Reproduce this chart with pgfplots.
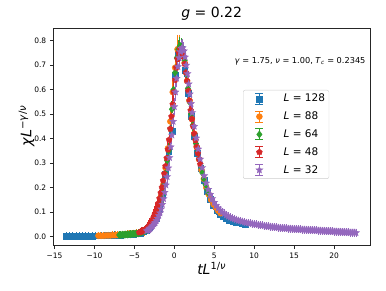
\documentclass[border=0pt]{standalone}
\usepackage{pgfplots}
\pgfplotsset{compat=1.18}
\usepackage{pgfplotstable}
\usepackage{fontspec}
\setmainfont{DejaVu Sans}
\usetikzlibrary{plotmarks}
\definecolor{c1}{HTML}{1F77B4}
\definecolor{c2}{HTML}{FF7F0E}
\definecolor{c3}{HTML}{2CA02C}
\definecolor{c4}{HTML}{D62728}
\definecolor{c5}{HTML}{9467BD}
\pgfdeclareplotmark{fstar}{%
  \pgfpathmoveto{\pgfpointpolar{90}{1.15\pgfplotmarksize}}%
  \pgfpathlineto{\pgfpointpolar{126}{0.5\pgfplotmarksize}}%
  \pgfpathlineto{\pgfpointpolar{162}{1.15\pgfplotmarksize}}%
  \pgfpathlineto{\pgfpointpolar{198}{0.5\pgfplotmarksize}}%
  \pgfpathlineto{\pgfpointpolar{234}{1.15\pgfplotmarksize}}%
  \pgfpathlineto{\pgfpointpolar{270}{0.5\pgfplotmarksize}}%
  \pgfpathlineto{\pgfpointpolar{306}{1.15\pgfplotmarksize}}%
  \pgfpathlineto{\pgfpointpolar{342}{0.5\pgfplotmarksize}}%
  \pgfpathlineto{\pgfpointpolar{18}{1.15\pgfplotmarksize}}%
  \pgfpathlineto{\pgfpointpolar{54}{0.5\pgfplotmarksize}}%
  \pgfpathclose
  \pgfusepathqfillstroke
}
\pgfplotsset{
  ebleg/.style={legend image code/.code={%
    \path (0pt,0pt) (36pt,0pt);
    \draw[#1,line width=0.9pt] (14pt,-5.5pt)--(14pt,5.5pt);
    \draw[#1,line width=0.9pt] (10pt,5.5pt)--(18pt,5.5pt);
    \draw[#1,line width=0.9pt] (10pt,-5.5pt)--(18pt,-5.5pt);
    \draw[mark repeat=2,mark phase=2,##1] plot coordinates {(0pt,0pt)(14pt,0pt)(28pt,0pt)};
  }},
  ebar/.style={error bars/.cd, y dir=both, y explicit,
    error bar style={line width=0.9pt},
    error mark options={mark size=3.5pt, line width=0.9pt}},
}

\pgfplotstableread{
x y e
-13.5 0.001 0.001
-13.1 0.001 0.001
-12.7 0.001 0.001
-12.3 0.001 0.001
-11.9 0.001 0.001
-11.5 0.002 0.001
-11.1 0.002 0.001
-10.7 0.002 0.001
-10.3 0.002 0.001
-9.9 0.003 0.001
-9.5 0.003 0.001
-9.1 0.003 0.001
-8.7 0.003 0.001
-8.3 0.004 0.001
-7.9 0.004 0.001
-7.5 0.005 0.001
-7.1 0.005 0.001
-6.7 0.006 0.001
-6.3 0.007 0.001
-5.9 0.008 0.002
-5.5 0.009 0.002
-5.1 0.010 0.002
-4.7 0.012 0.002
-4.3 0.014 0.002
-3.9 0.019 0.003
-3.5 0.026 0.003
-3.1 0.037 0.004
-2.7 0.053 0.005
-2.3 0.076 0.006
-1.9 0.110 0.008
-1.5 0.168 0.010
-1.1 0.255 0.012
-0.7 0.350 0.014
-0.3 0.430 0.016
0.1 0.660 0.018
0.5 0.750 0.018
0.9 0.765 0.016
1.3 0.680 0.015
1.7 0.585 0.012
2.1 0.490 0.010
2.5 0.410 0.009
2.9 0.340 0.008
3.3 0.280 0.007
3.7 0.230 0.006
4.1 0.185 0.005
4.5 0.152 0.004
4.9 0.127 0.004
5.3 0.107 0.003
5.7 0.092 0.003
6.1 0.082 0.003
6.5 0.074 0.002
6.9 0.068 0.002
7.3 0.063 0.002
7.7 0.059 0.002
8.1 0.056 0.002
8.5 0.053 0.002
8.9 0.050 0.002
}\tblue

\pgfplotstableread{
x y e
-9.5 0.003 0.001
-9.2 0.003 0.001
-8.9 0.003 0.001
-8.6 0.004 0.001
-8.3 0.004 0.001
-8.0 0.004 0.001
-7.7 0.005 0.001
-7.4 0.005 0.001
-7.1 0.006 0.001
-6.8 0.006 0.001
-6.5 0.007 0.001
-6.2 0.008 0.002
-5.9 0.009 0.002
-5.6 0.010 0.002
-5.3 0.011 0.002
-5.0 0.012 0.002
-4.7 0.013 0.002
-4.4 0.015 0.003
-4.1 0.018 0.003
-3.8 0.022 0.004
-3.5 0.029 0.005
-3.2 0.039 0.007
-2.9 0.050 0.010
-2.6 0.068 0.015
-2.3 0.090 0.025
-2.0 0.120 0.030
-1.7 0.160 0.030
-1.4 0.210 0.025
-1.1 0.280 0.025
-0.8 0.360 0.025
-0.5 0.470 0.030
-0.2 0.590 0.035
0.1 0.690 0.035
0.4 0.765 0.045
0.7 0.775 0.035
1.0 0.760 0.030
1.3 0.710 0.025
1.6 0.635 0.022
1.9 0.555 0.020
2.2 0.480 0.018
2.5 0.420 0.015
2.8 0.365 0.013
3.1 0.315 0.011
3.4 0.272 0.010
3.7 0.235 0.008
4.0 0.200 0.007
4.3 0.172 0.006
4.6 0.150 0.005
4.9 0.132 0.005
5.2 0.118 0.004
5.5 0.105 0.004
5.8 0.095 0.003
}\torange

\pgfplotstableread{
x y e
-6.9 0.006 0.001
-6.7 0.006 0.001
-6.5 0.007 0.001
-6.3 0.007 0.001
-6.1 0.008 0.001
-5.9 0.008 0.001
-5.7 0.009 0.001
-5.5 0.009 0.002
-5.3 0.010 0.002
-5.1 0.011 0.002
-4.9 0.011 0.002
-4.7 0.012 0.002
-4.5 0.013 0.002
-4.3 0.015 0.002
-4.1 0.017 0.003
-3.9 0.020 0.003
-3.7 0.023 0.003
-3.5 0.027 0.004
-3.3 0.032 0.004
-3.1 0.038 0.005
-2.9 0.046 0.006
-2.7 0.055 0.007
-2.5 0.066 0.008
-2.3 0.080 0.009
-2.1 0.094 0.010
-1.9 0.114 0.011
-1.7 0.140 0.012
-1.5 0.172 0.013
-1.3 0.212 0.014
-1.1 0.258 0.015
-0.9 0.310 0.016
-0.7 0.350 0.018
-0.5 0.440 0.020
-0.3 0.520 0.020
-0.1 0.600 0.022
0.1 0.670 0.022
0.3 0.730 0.022
0.5 0.765 0.022
0.7 0.780 0.020
0.9 0.775 0.020
1.1 0.755 0.018
1.3 0.720 0.018
1.5 0.665 0.016
1.7 0.605 0.015
1.9 0.550 0.014
2.1 0.500 0.013
2.3 0.455 0.012
2.5 0.415 0.011
2.7 0.380 0.010
2.9 0.345 0.009
3.1 0.315 0.008
3.3 0.288 0.008
3.5 0.260 0.007
3.7 0.236 0.006
3.9 0.212 0.006
4.1 0.192 0.005
4.3 0.176 0.005
}\tgreen

\pgfplotstableread{
x y e
-4.40 0.016 0.002
-4.25 0.018 0.002
-4.10 0.020 0.003
-3.95 0.022 0.003
-3.80 0.025 0.004
-3.65 0.028 0.005
-3.50 0.031 0.006
-3.35 0.036 0.008
-3.20 0.042 0.010
-3.05 0.049 0.012
-2.90 0.057 0.015
-2.75 0.066 0.018
-2.60 0.076 0.020
-2.45 0.088 0.022
-2.30 0.100 0.022
-2.15 0.117 0.022
-2.00 0.135 0.020
-1.85 0.155 0.020
-1.70 0.178 0.020
-1.55 0.200 0.020
-1.40 0.228 0.020
-1.25 0.256 0.020
-1.10 0.287 0.020
-0.95 0.320 0.020
-0.80 0.355 0.020
-0.65 0.395 0.020
-0.50 0.440 0.020
-0.35 0.490 0.022
-0.20 0.540 0.022
-0.05 0.590 0.022
0.10 0.640 0.022
0.25 0.690 0.022
0.40 0.725 0.022
0.55 0.750 0.022
0.70 0.765 0.020
0.85 0.760 0.020
1.00 0.750 0.020
1.15 0.735 0.020
1.30 0.705 0.018
1.45 0.670 0.018
1.60 0.635 0.016
1.75 0.595 0.016
1.90 0.555 0.015
2.05 0.515 0.014
2.20 0.480 0.013
2.35 0.450 0.012
2.50 0.420 0.011
2.65 0.393 0.010
2.80 0.366 0.010
2.95 0.340 0.009
3.10 0.316 0.008
3.25 0.295 0.008
}\tred

\pgfplotstableread{
x y e
-3.45 0.023 0.003
-3.30 0.026 0.003
-3.15 0.030 0.004
-3.00 0.034 0.004
-2.85 0.039 0.005
-2.70 0.044 0.005
-2.55 0.051 0.006
-2.40 0.057 0.006
-2.25 0.065 0.007
-2.10 0.074 0.008
-1.95 0.085 0.009
-1.80 0.096 0.010
-1.65 0.112 0.011
-1.50 0.131 0.012
-1.35 0.154 0.013
-1.20 0.180 0.014
-1.05 0.210 0.015
-0.90 0.244 0.016
-0.75 0.280 0.017
-0.60 0.322 0.018
-0.45 0.366 0.019
-0.30 0.414 0.020
-0.15 0.470 0.020
0.00 0.530 0.021
0.15 0.590 0.021
0.30 0.646 0.022
0.45 0.694 0.022
0.60 0.730 0.022
0.75 0.755 0.022
0.90 0.768 0.022
1.05 0.771 0.022
1.20 0.758 0.021
1.35 0.733 0.020
1.50 0.700 0.019
1.65 0.665 0.018
1.80 0.623 0.017
1.95 0.582 0.016
2.10 0.543 0.015
2.25 0.506 0.014
2.50 0.450 0.013
2.75 0.402 0.012
3.00 0.357 0.011
3.25 0.316 0.010
3.50 0.281 0.009
3.75 0.248 0.008
4.00 0.218 0.007
4.25 0.192 0.006
4.50 0.172 0.006
4.75 0.154 0.005
5.00 0.139 0.005
5.25 0.126 0.004
5.50 0.116 0.004
5.75 0.107 0.004
6.00 0.099 0.003
6.25 0.093 0.003
6.50 0.087 0.003
6.75 0.082 0.003
7.00 0.078 0.003
7.25 0.074 0.002
7.50 0.071 0.002
7.75 0.068 0.002
8.00 0.065 0.002
8.25 0.063 0.002
8.50 0.061 0.002
8.75 0.058 0.002
9.00 0.056 0.002
9.25 0.055 0.002
9.50 0.053 0.002
9.75 0.052 0.002
10.00 0.050 0.002
10.25 0.049 0.002
10.50 0.047 0.002
10.75 0.046 0.002
11.00 0.045 0.002
11.25 0.043 0.002
11.50 0.042 0.002
11.75 0.041 0.002
12.00 0.040 0.002
12.25 0.039 0.002
12.50 0.038 0.002
12.75 0.037 0.002
13.00 0.036 0.002
13.25 0.035 0.002
13.50 0.034 0.002
13.75 0.034 0.002
14.00 0.033 0.002
14.25 0.032 0.002
14.50 0.032 0.002
14.75 0.031 0.002
15.00 0.030 0.002
15.25 0.030 0.002
15.50 0.029 0.002
15.75 0.029 0.002
16.00 0.028 0.002
16.25 0.028 0.002
16.50 0.027 0.002
16.75 0.027 0.002
17.00 0.026 0.002
17.25 0.026 0.002
17.50 0.025 0.002
17.75 0.025 0.002
18.00 0.024 0.002
18.25 0.024 0.002
18.50 0.023 0.002
18.75 0.023 0.002
19.00 0.022 0.002
19.25 0.022 0.002
19.50 0.021 0.002
19.75 0.021 0.002
20.00 0.020 0.002
20.25 0.020 0.002
20.50 0.019 0.002
20.75 0.019 0.002
21.00 0.018 0.002
21.25 0.018 0.002
21.50 0.017 0.002
21.75 0.017 0.002
22.00 0.016 0.002
22.25 0.016 0.002
22.50 0.016 0.002
22.75 0.015 0.002
}\tpurple

\begin{document}
\begin{tikzpicture}
\path[use as bounding box] (0,0) rectangle (386pt,290pt);
\begin{axis}[
  at={(53.3pt,44.5pt)}, anchor=south west,
  scale only axis, width=316.7pt, height=217.5pt,
  xmin=-15.15, xmax=24.5, ymin=-0.037, ymax=0.852,
  xtick={-15,-10,-5,0,5,10,15,20},
  xticklabels={−15,−10,−5,0,5,10,15,20},
  ytick={0,0.1,0.2,0.3,0.4,0.5,0.6,0.7,0.8},
  yticklabels={0.0,0.1,0.2,0.3,0.4,0.5,0.6,0.7,0.8},
  tick align=outside, tick pos=left,
  major tick length=3.5pt,
  every tick/.style={black!85, line width=0.6pt},
  axis line style={black!85, line width=0.6pt},
  ticklabel style={font=\fontsize{7.5}{9}\selectfont},
  title={\textit{g} = 0.22},
  title style={font=\fontsize{14}{16}\selectfont, at={(0.5,1)}, anchor=base, yshift=4pt},
  xlabel={\textit{tL}\textsuperscript{1/\textit{ν}}},
  xlabel style={font=\fontsize{14}{16}\selectfont, at={(0.5,0)}, anchor=base, yshift=-29pt},
  ylabel={\textit{χL}\textsuperscript{−\textit{γ}/\textit{ν}}},
  ylabel style={font=\fontsize{14.5}{16}\selectfont, at={(0,0.55)}, anchor=base, yshift=22pt},
  legend style={at={(0.599,0.715)}, anchor=north west, font=\fontsize{10.5}{12}\selectfont,
    draw=black!20, rounded corners=2pt, inner sep=2pt, row sep=4.5pt},
  legend cell align=left,
]
\addplot[only marks, color=c1, mark=square*, mark size=2.9pt, ebleg={c1}, ebar] table[x=x,y=y,y error=e] {\tblue};
\addlegendentry{\textit{L} = 128}
\addplot[only marks, color=c2, mark=*, mark size=3pt, ebleg={c2}, ebar] table[x=x,y=y,y error=e] {\torange};
\addlegendentry{\textit{L} = 88}
\addplot[only marks, color=c3, mark=diamond*, mark size=3.6pt, ebleg={c3}, ebar] table[x=x,y=y,y error=e] {\tgreen};
\addlegendentry{\textit{L} = 64}
\addplot[only marks, color=c4, mark=pentagon*, mark size=3.1pt, ebleg={c4}, ebar] table[x=x,y=y,y error=e] {\tred};
\addlegendentry{\textit{L} = 48}
\addplot[only marks, color=c5, mark=fstar, mark size=3.1pt, ebleg={c5}, ebar] table[x=x,y=y,y error=e] {\tpurple};
\addlegendentry{\textit{L} = 32}
\node[anchor=base, font=\fontsize{8.2}{9}\selectfont] at (rel axis cs:0.779,0.839)
  {\textit{γ} = 1.75, \textit{ν} = 1.00, \textit{T}\textsubscript{\textit{c}} = 0.2345};
\end{axis}
\end{tikzpicture}
\end{document}
